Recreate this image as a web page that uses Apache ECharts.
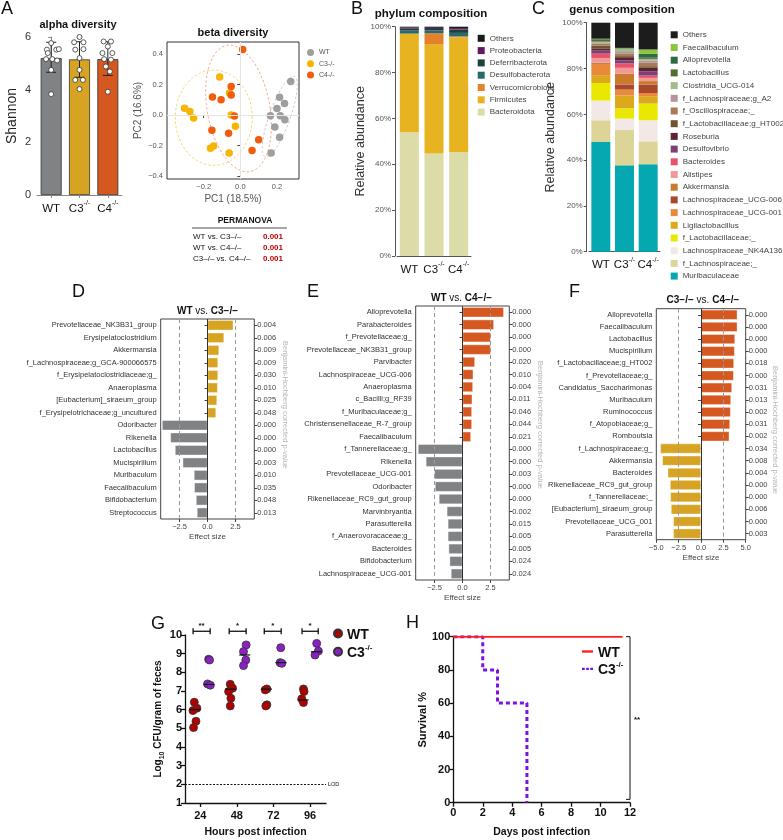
<!DOCTYPE html>
<html>
<head>
<meta charset="utf-8">
<script src="https://cdn.jsdelivr.net/npm/echarts@6/dist/echarts.min.js"></script>
<style>html,body{margin:0;padding:0;background:#fff}#chart{width:783px;height:840px}</style>
</head>
<body>
<div id="chart"></div>
<script>
// ---------- A: alpha diversity ----------
const groups = ['WT', 'C3', 'C4'];
const shannonMean = [5.2, 5.15, 5.16];
const shannonLow = [4.66, 4.47, 4.54];
const shannonHigh = [5.8, 5.82, 5.82];
const shannonWT = [[0, 5.77], [-0.15, 5.52], [0.18, 5.52], [0.27, 5.54], [-0.12, 5.39], [-0.18, 5.16], [0.04, 5.16], [0.21, 5.11], [0, 4.75], [0, 3.83]];
const shannonC3 = [[1, 6.0], [0.81, 5.8], [1.14, 5.8], [0.85, 5.52], [1.14, 5.54], [1, 5.2], [1, 4.75], [0.85, 4.37], [1.12, 4.37], [1, 4.02]];
const shannonC4 = [[1.85, 5.83], [2.11, 5.83], [2, 5.64], [1.81, 5.39], [2.16, 5.39], [1.87, 5.16], [2.11, 5.14], [1.93, 4.88], [2.07, 4.69], [2, 3.92]];

// ---------- A: beta diversity (PC1, PC2) ----------
const pcoaWT = [[0.275, 0.22], [0.214, 0.117], [0.241, 0.076], [0.2, 0.043], [0.164, -0.004], [0.218, -0.004], [0.243, -0.03], [0.188, -0.078], [0.214, -0.145], [0.168, -0.25]];
const pcoaC3 = [[-0.113, 0.25], [-0.059, 0.145], [-0.304, 0.045], [-0.275, 0.024], [-0.255, -0.02], [-0.05, 0.0], [-0.027, -0.074], [-0.163, -0.218], [-0.146, -0.203], [-0.061, -0.249]];
const pcoaC4 = [[0.013, 0.43], [-0.05, 0.188], [-0.05, 0.132], [-0.152, 0.119], [-0.105, 0.1], [-0.032, -0.006], [-0.155, -0.1], [-0.064, -0.119], [0.1, -0.162], [0.064, -0.233]];
// ellipses: [centre x, centre y, half-width, half-height, shear]
const ellipses = [[0.215, -0.01, 0.06, 0.265, 0.28], [-0.145, -0.017, 0.21, 0.313, 0], [-0.01, 0.043, 0.173, 0.416, -0.115]];
const permanovaRows = ['WT vs. C3\u2013/\u2013', 'WT vs. C4\u2013/\u2013', 'C3\u2013/\u2013 vs. C4\u2013/\u2013'];
const permanovaP = ['0.001', '0.001', '0.001'];

// ---------- B: phylum composition (bottom -> top), WT, C3, C4 ----------
const phyla = ['Bacteroidota', 'Firmicutes', 'Verrucomicrobiota', 'Desulfobacterota', 'Deferribacterota', 'Proteobacteria', 'Others'];
const phylumColors = ['#dcdca8', '#e8b320', '#e5812b', '#256b6b', '#1d4038', '#5f1b63', '#1a1a1a'];
const phylumValues = [
  [54.0, 44.7, 45.3],
  [42.9, 47.6, 50.0],
  [0.1, 4.8, 0.5],
  [1.3, 1.3, 1.5],
  [0.8, 0.6, 1.5],
  [0.5, 0.5, 0.6],
  [0.4, 0.5, 0.6]
];

// ---------- C: genus composition (bottom -> top) ----------
const genera = ['Muribaculaceae', 'f_Lachnospiraceae;_', 'Lachnospiraceae_NK4A136', 'f_Lactobacillaceae;_', 'Ligilactobacillus',
  'Lachnospiraceae_UCG-001', 'Lachnospiraceae_UCG-006', 'Akkermansia', 'Alistipes', 'Bacteroides', 'Desulfovibrio', 'Roseburia',
  'f_Lactobacillaceae;g_HT002', 'f_Oscillospiraceae;_', 'f_Lachnospiraceae;g_A2', 'Clostridia_UCG-014', 'Lactobacillus',
  'Alloprevotella', 'Faecalibaculum', 'Others'];
const genusColors = ['#05a8b1', '#ddd597', '#f2e9e6', '#e8e800', '#dca81c', '#e8893c', '#a8482c', '#c97a2c', '#f19a95', '#e8526a',
  '#7e3f74', '#5e2435', '#6e5233', '#a87a56', '#b5949c', '#a4b98c', '#556b2f', '#2e6b45', '#8cc63f', '#1c1c1c'];
const genusValues = [
  [47.9, 37.7, 38.2], [9.5, 15.6, 10.0], [8.6, 4.8, 9.2], [7.7, 4.5, 7.3], [3.4, 5.6, 3.2],
  [4.9, 2.6, 1.4], [0.3, 2.2, 3.7], [0.3, 4.8, 1.5], [2.0, 2.5, 1.4], [1.9, 1.9, 1.0],
  [1.3, 1.4, 1.9], [0.8, 1.0, 1.5], [1.4, 0.8, 0.7], [0.8, 1.0, 1.5], [0.4, 0.8, 1.0],
  [0.5, 1.4, 0.7], [1.0, 0.2, 0.5], [0.2, 0.1, 1.7], [0.1, 0.1, 1.9], [7.0, 11.0, 11.7]
];

// ---------- D: WT vs C3 ----------
const taxaD = ['Prevotellaceae_NK3B31_group', 'Erysipelatoclostridium', 'Akkermansia', 'f_Lachnospiraceae;g_GCA-900066575',
  'f_Erysipelatoclostridiaceae;g_', 'Anaeroplasma', '[Eubacterium]_siraeum_group', 'f_Erysipelotrichaceae;g_uncultured',
  'Odoribacter', 'Rikenella', 'Lactobacillus', 'Mucispirillum', 'Muribaculum', 'Faecalibaculum', 'Bifidobacterium', 'Streptococcus'];
const effectD = [2.32, 1.49, 1.04, 0.95, 0.95, 0.92, 0.86, 0.77, -4.08, -3.33, -2.92, -2.23, -1.22, -1.19, -1.04, -0.95];
const pD = ['0.004', '0.006', '0.009', '0.009', '0.030', '0.010', '0.025', '0.048', '0.000', '0.000', '0.000', '0.003', '0.010', '0.035', '0.048', '0.013'];

// ---------- E: WT vs C4 ----------
const taxaE = ['Alloprevotella', 'Parabacteroides', 'f_Prevotellaceae;g_', 'Prevotellaceae_NK3B31_group', 'Parvibacter',
  'Lachnospiraceae_UCG-006', 'Anaeroplasma', 'c_Bacilli;g_RF39', 'f_Muribaculaceae;g_', 'Christensenellaceae_R-7_group',
  'Faecalibaculum', 'f_Tannerellaceae;g_', 'Rikenella', 'Prevotellaceae_UCG-001', 'Odoribacter', 'Rikenellaceae_RC9_gut_group',
  'Marvinbryantia', 'Parasutterella', 'f_Anaerovoracaceae;g_', 'Bacteroides', 'Bifidobacterium', 'Lachnospiraceae_UCG-001'];
const effectE = [3.71, 2.82, 2.53, 2.53, 1.12, 0.97, 0.94, 0.88, 0.85, 0.85, 0.76, -4.0, -3.29, -2.53, -2.47, -2.12, -1.41, -1.32, -1.32, -1.25, -1.16, -1.04];
const pE = ['0.000', '0.000', '0.000', '0.000', '0.020', '0.010', '0.004', '0.011', '0.046', '0.044', '0.021', '0.000', '0.000', '0.003', '0.000', '0.000', '0.002', '0.015', '0.005', '0.005', '0.024', '0.024'];

// ---------- F: C3 vs C4 ----------
const taxaF = ['Alloprevotella', 'Faecalibaculum', 'Lactobacillus', 'Mucispirillum', 'f_Lactobacillaceae;g_HT002', 'f_Prevotellaceae;g_',
  'Candidatus_Saccharimonas', 'Muribaculum', 'Ruminococcus', 'f_Atopobiaceae;g_', 'Romboutsia', 'f_Lachnospiraceae;g_', 'Akkermansia',
  'Bacteroides', 'Rikenellaceae_RC9_gut_group', 'f_Tannerellaceae;_', '[Eubacterium]_siraeum_group', 'Prevotellaceae_UCG_001', 'Parasutterella'];
const effectF = [4.07, 4.07, 3.81, 3.77, 3.69, 3.66, 3.47, 3.36, 3.32, 3.25, 3.17, -4.55, -4.33, -3.73, -3.47, -3.43, -3.36, -3.1, -3.1];
const pF = ['0.000', '0.000', '0.000', '0.000', '0.018', '0.000', '0.031', '0.013', '0.002', '0.031', '0.002', '0.034', '0.008', '0.004', '0.000', '0.000', '0.006', '0.000', '0.003'];

// ---------- G: CFU (hours, log10 CFU) ----------
const hours = [24, 48, 72, 96];
const cfuWT = [[20.1, 6.4], [21.8, 6.08], [19.2, 5.95], [21.2, 5.38], [19.6, 5.04],
  [43.7, 7.36], [45.2, 7.15], [42.6, 6.97], [44.1, 6.61], [43.7, 6.2],
  [67.7, 7.11], [66.6, 7.06], [67.7, 6.26], [67.0, 6.2],
  [91.7, 7.11], [92.1, 6.97], [90.6, 6.58], [91.7, 6.38]];
const cfuC3 = [[29.5, 8.7], [30.1, 8.66], [28.8, 7.38], [30.6, 7.31],
  [54.1, 9.47], [52.4, 9.11], [53.9, 8.66], [52.4, 8.36],
  [76.8, 9.32], [76.4, 8.52], [77.5, 8.48],
  [100.4, 9.55], [101.5, 9.14], [99.3, 8.93]];
const medianWT = [[20.5, 6.0], [44.0, 7.1], [67.4, 7.1], [91.4, 6.52]];
const medianC3 = [[29.7, 7.35], [53.2, 8.93], [77.0, 8.52], [100.2, 9.1]];
const brackets = [[19.3, 30.5, 10.2], [43.0, 54.1, 10.2], [66.0, 77.1, 10.2], [90.8, 101.4, 10.2]];
const bracketStars = ['**', '*', '*', '*'];
const lod = 2;

// ---------- H: survival ----------
const survivalWT = [[0, 100], [11.5, 100]];
const survivalC3 = [[0, 100], [2, 80], [3, 60], [5, 0]];

const FONT = 'Liberation Sans, Arial, sans-serif';
const cWT = '#7f8386', cC3 = '#d6a323', cC4 = '#d4581f';
const minus = v => v.toFixed(1).replace('-', '\u2212');
const supRich = (size, weight) => ({
  n: {fontSize: size, fontWeight: weight, lineHeight: size + 3, verticalAlign: 'bottom', color: '#111'},
  s: {fontSize: Math.round(size * 0.6), fontWeight: weight, lineHeight: size * 0.7, verticalAlign: 'top', color: '#111'}
});
const groupLabel = v => v === 'WT' ? '{n|WT}' : '{n|' + v + '}{s|-/-}';

const chart = echarts.init(document.getElementById('chart'));

const grids = [
  {left: 37, top: 37, width: 85, height: 158},
  {left: 167, top: 42, width: 132, height: 137, show: true, borderColor: '#333', borderWidth: 1},
  {left: 397, top: 26.7, width: 74, height: 229.3},
  {left: 589, top: 22.7, width: 71, height: 229},
  {left: 160.7, top: 319, width: 93.6, height: 200, show: true, borderColor: '#444', borderWidth: 1},
  {left: 415.7, top: 306, width: 93.6, height: 274, show: true, borderColor: '#444', borderWidth: 1},
  {left: 656.3, top: 308.7, width: 89.4, height: 231, show: true, borderColor: '#444', borderWidth: 1},
  {left: 185, top: 635, width: 141, height: 168},
  {left: 453.3, top: 636.7, width: 176.7, height: 166}
];

const greyAxis = {lineStyle: {color: '#555', width: 1}};
const effectX = (gi, isF) => ({
  type: 'value', gridIndex: gi, min: isF ? -5 : -4.2, max: isF ? 5 : 4.2, interval: isF ? 2.5 : undefined,
  axisLine: {show: false}, splitLine: {show: false},
  axisTick: {show: true, length: 3, lineStyle: {color: '#444'}, customValues: isF ? undefined : [-2.5, 0, 2.5]},
  axisLabel: {fontSize: 7.5, color: '#444', margin: 4, formatter: minus, customValues: isF ? undefined : [-2.5, 0, 2.5]},
  name: 'Effect size', nameLocation: 'middle', nameGap: 14, nameTextStyle: {fontSize: 8, color: '#444'}
});
const taxaY = (gi, names) => ({
  type: 'category', gridIndex: gi, data: names, inverse: true, position: 'left',
  axisLine: {show: false}, axisTick: {show: true, length: 3, alignWithLabel: true, lineStyle: {color: '#444'}},
  axisLabel: {fontSize: 7.5, color: '#333', margin: 4, interval: 0}
});
const pY = (gi, names, pv) => ({
  type: 'category', gridIndex: gi, data: names, inverse: true, position: 'right',
  axisLine: {show: false}, axisTick: {show: true, length: 3, alignWithLabel: true, lineStyle: {color: '#444'}},
  axisLabel: {fontSize: 7.5, color: '#444', margin: 3, interval: 0, formatter: (v, i) => pv[i]}
});
const groupX = (gi, lineColor, ticks) => ({
  type: 'category', gridIndex: gi, data: groups,
  axisLine: {lineStyle: {color: lineColor}}, axisTick: {show: ticks, length: 3, alignWithLabel: true, lineStyle: {color: lineColor}},
  axisLabel: {interval: 0, formatter: groupLabel, rich: supRich(11.5, 'normal'), margin: 5}
});

const xAxes = [
  groupX(0, '#888', true),
  {type: 'value', gridIndex: 0, min: -0.5, max: 2.5, show: false},
  {type: 'value', gridIndex: 1, min: -0.4, max: 0.32, splitLine: {show: false}, axisLine: {show: false},
    axisTick: {length: 3, lineStyle: {color: '#444'}, customValues: [-0.2, 0, 0.2]},
    axisLabel: {fontSize: 7.5, color: '#555', margin: 4, customValues: [-0.2, 0, 0.2], formatter: v => v.toFixed(1).replace('-', '\u2212')},
    name: 'PC1 (18.5%)', nameLocation: 'middle', nameGap: 15, nameTextStyle: {fontSize: 10, color: '#555'}},
  groupX(2, '#555', false),
  groupX(3, '#555', false),
  effectX(4, false),
  effectX(5, false),
  effectX(6, true),
  {type: 'value', gridIndex: 7, min: 14, max: 106.5, splitLine: {show: false},
    axisLine: {lineStyle: {color: '#111', width: 1.3}},
    axisTick: {length: 4, lineStyle: {color: '#111', width: 1.3}, customValues: hours},
    axisLabel: {fontSize: 11, fontWeight: 'bold', color: '#111', margin: 7, customValues: hours},
    name: 'Hours post infection', nameLocation: 'middle', nameGap: 24, nameTextStyle: {fontSize: 10.5, fontWeight: 'bold', color: '#111'}},
  {type: 'value', gridIndex: 8, min: 0, max: 12, interval: 2, splitLine: {show: false},
    axisLine: {lineStyle: {color: '#111', width: 1.3}}, axisTick: {length: 4, lineStyle: {color: '#111', width: 1.3}},
    axisLabel: {fontSize: 11, fontWeight: 'bold', color: '#111', margin: 5},
    name: 'Days post infection', nameLocation: 'middle', nameGap: 24, nameTextStyle: {fontSize: 10.5, fontWeight: 'bold', color: '#111'}}
];

const yAxes = [
  {type: 'value', gridIndex: 0, min: 0, max: 6, interval: 2, splitLine: {show: false}, offset: 1,
    axisLine: {show: true, lineStyle: {color: '#888'}}, axisTick: {show: true, length: 3, lineStyle: {color: '#888'}},
    axisLabel: {fontSize: 11, color: '#333', margin: 5},
    name: 'Shannon', nameLocation: 'middle', nameGap: 17, nameTextStyle: {fontSize: 14, color: '#222'}},
  {type: 'value', gridIndex: 1, min: -0.42, max: 0.48, splitLine: {show: false}, axisLine: {show: false},
    axisTick: {show: true, length: 3, lineStyle: {color: '#444'}, customValues: [-0.4, -0.2, 0, 0.2, 0.4]},
    axisLabel: {fontSize: 7.5, color: '#555', margin: 4, customValues: [-0.4, -0.2, 0, 0.2, 0.4], formatter: v => v.toFixed(1).replace('-', '\u2212')},
    name: 'PC2 (16.6%)', nameLocation: 'middle', nameGap: 24, nameTextStyle: {fontSize: 10, color: '#555'}},
  {type: 'value', gridIndex: 2, min: 0, max: 100, interval: 20, offset: 2, splitLine: {show: false},
    axisLine: {show: true, lineStyle: {color: '#555'}}, axisTick: {show: true, length: 3, lineStyle: {color: '#555'}},
    axisLabel: {fontSize: 8, color: '#555', margin: 4, formatter: v => v + '%'},
    name: 'Relative abundance', nameLocation: 'middle', nameGap: 27, nameTextStyle: {fontSize: 12.5, color: '#333'}},
  {type: 'value', gridIndex: 3, min: 0, max: 100, interval: 20, offset: 2.3, splitLine: {show: false},
    axisLine: {show: true, lineStyle: {color: '#555'}}, axisTick: {show: true, length: 3, lineStyle: {color: '#555'}},
    axisLabel: {fontSize: 8, color: '#555', margin: 4, formatter: v => v + '%'},
    name: 'Relative abundance', nameLocation: 'middle', nameGap: 30, nameTextStyle: {fontSize: 12.5, color: '#333'}},
  taxaY(4, taxaD), pY(4, taxaD, pD),
  taxaY(5, taxaE), pY(5, taxaE, pE),
  taxaY(6, taxaF), pY(6, taxaF, pF),
  {type: 'value', gridIndex: 7, min: 1, max: 10, interval: 1, splitLine: {show: false},
    axisLine: {show: true, lineStyle: {color: '#111', width: 1.3}}, axisTick: {show: true, length: 4, lineStyle: {color: '#111', width: 1.3}},
    axisLabel: {fontSize: 11, fontWeight: 'bold', color: '#111', margin: 3},
    name: '{a|Log}{s|10}{a| CFU/gram of feces}', nameLocation: 'middle', nameGap: 19,
    nameTextStyle: {rich: {a: {fontSize: 10, fontWeight: 'bold', color: '#111', lineHeight: 13, verticalAlign: 'top'},
      s: {fontSize: 7, fontWeight: 'bold', color: '#111', lineHeight: 9, verticalAlign: 'bottom'}}}},
  {type: 'value', gridIndex: 8, min: 0, max: 100, interval: 20, splitLine: {show: false},
    axisLine: {show: true, lineStyle: {color: '#111', width: 1.3}}, axisTick: {show: true, length: 4, lineStyle: {color: '#111', width: 1.3}},
    axisLabel: {fontSize: 11, fontWeight: 'bold', color: '#111', margin: 3},
    name: 'Survival %', nameLocation: 'middle', nameGap: 23, nameTextStyle: {fontSize: 11, fontWeight: 'bold', color: '#111'}}
];

const series = [];

// A alpha
series.push({type: 'bar', xAxisIndex: 0, yAxisIndex: 0, barWidth: 21, z: 2,
  data: shannonMean.map((v, i) => ({value: v, itemStyle: {color: [cWT, cC3, cC4][i]}})),
  itemStyle: {borderColor: '#333', borderWidth: 0.8}});
series.push({type: 'custom', xAxisIndex: 1, yAxisIndex: 0, z: 3,
  data: groups.map((g, i) => [i, shannonLow[i], shannonHigh[i]]),
  renderItem: (params, api) => {
    const lo = api.coord([api.value(0), api.value(1)]);
    const hi = api.coord([api.value(0), api.value(2)]);
    const st = {stroke: '#222', lineWidth: 1};
    return {type: 'group', children: [
      {type: 'line', shape: {x1: lo[0], y1: lo[1], x2: hi[0], y2: hi[1]}, style: st},
      {type: 'line', shape: {x1: lo[0] - 5, y1: lo[1], x2: lo[0] + 5, y2: lo[1]}, style: st},
      {type: 'line', shape: {x1: hi[0] - 5, y1: hi[1], x2: hi[0] + 5, y2: hi[1]}, style: st}
    ]};
  }});
[shannonWT, shannonC3, shannonC4].forEach(d => series.push({type: 'scatter', xAxisIndex: 1, yAxisIndex: 0, z: 4, data: d,
  symbolSize: 5, itemStyle: {color: '#fff', borderColor: '#333', borderWidth: 0.8, opacity: 1}}));

// A beta
series.push({type: 'custom', xAxisIndex: 2, yAxisIndex: 1, z: 2, data: ellipses, clip: true,
  renderItem: (params, api) => {
    const cx = api.value(0), cy = api.value(1), rx = api.value(2), ry = api.value(3), k = api.value(4);
    const pts = [];
    for (let i = 0; i <= 90; i++) {
      const t = i / 90 * Math.PI * 2;
      pts.push(api.coord([cx + rx * Math.cos(t) + k * ry * Math.sin(t), cy + ry * Math.sin(t)]));
    }
    const col = ['#c4c4c4', '#f6cf63', '#f3a17f'][params.dataIndex];
    return {type: 'polyline', shape: {points: pts}, style: {stroke: col, fill: null, lineWidth: 0.9, lineDash: [2.5, 2]}};
  }});
series.push({type: 'scatter', xAxisIndex: 2, yAxisIndex: 1, data: [], silent: true,
  markLine: {silent: true, symbol: ['none', 'none'], label: {show: false}, lineStyle: {color: '#e6e6e6', type: 'solid', width: 1},
    data: [{xAxis: 0}, {yAxis: 0}]}});
[['bWT', pcoaWT, '#9e9e9e'], ['bC3', pcoaC3, '#f7b500'], ['bC4', pcoaC4, '#f25c0a']].forEach(([n, d, c]) =>
  series.push({type: 'scatter', name: n, xAxisIndex: 2, yAxisIndex: 1, z: 3, data: d, symbolSize: 7.5, itemStyle: {color: c, opacity: 1}}));

// B phylum
phyla.forEach((p, k) => series.push({type: 'bar', name: p, stack: 'phylum', xAxisIndex: 3, yAxisIndex: 2, barWidth: 19,
  data: phylumValues[k], itemStyle: {color: phylumColors[k]}}));
// C genus
genera.forEach((g, k) => series.push({type: 'bar', name: g === 'Others' ? 'Others ' : g, stack: 'genus', xAxisIndex: 4, yAxisIndex: 3, barWidth: 19,
  data: genusValues[k], itemStyle: {color: genusColors[k]}}));

// D E F
[[4, 5, 4, effectD, cC3, cWT], [5, 6, 6, effectE, cC4, cWT], [6, 7, 8, effectF, cC4, cC3]].forEach(([gi, xi, yi, vals, pos, neg]) => {
  series.push({type: 'scatter', xAxisIndex: xi, yAxisIndex: yi, data: [], silent: true, z: 1,
    markLine: {silent: true, symbol: ['none', 'none'], label: {show: false},
      data: [{xAxis: -2.5, lineStyle: {color: '#999', type: [4, 3], width: 1}}, {xAxis: 2.5, lineStyle: {color: '#999', type: [4, 3], width: 1}}]}});
  series.push({type: 'bar', xAxisIndex: xi, yAxisIndex: yi, z: 2, barCategoryGap: '18%',
    data: vals.map(v => ({value: v, itemStyle: {color: v > 0 ? pos : neg}})),
    itemStyle: {borderColor: 'rgba(255,255,255,0.7)', borderWidth: 0.6},
    markLine: {silent: true, symbol: ['none', 'none'], label: {show: false}, z: 5,
      data: [{xAxis: 0, lineStyle: {color: '#333', type: 'solid', width: 1}}]}});
});

// G
series.push({type: 'scatter', xAxisIndex: 8, yAxisIndex: 10, data: [], silent: true,
  markLine: {silent: true, symbol: ['none', 'none'], lineStyle: {color: '#111', type: [2, 1.5], width: 1},
    label: {show: true, position: 'end', formatter: 'LOD', fontSize: 5.5, color: '#111', distance: 2},
    data: [{yAxis: lod}]}});
series.push({type: 'scatter', name: 'gWT', xAxisIndex: 8, yAxisIndex: 10, z: 3, data: cfuWT, symbolSize: 8,
  itemStyle: {color: '#b00000', borderColor: '#333', borderWidth: 0.8, opacity: 1}});
series.push({type: 'scatter', name: 'gC3', xAxisIndex: 8, yAxisIndex: 10, z: 3, data: cfuC3, symbolSize: 8,
  itemStyle: {color: '#8b20c4', borderColor: '#333', borderWidth: 0.8, opacity: 1}});
[medianWT, medianC3].forEach(d => series.push({type: 'scatter', xAxisIndex: 8, yAxisIndex: 10, z: 4, data: d,
  symbol: 'rect', symbolSize: [11, 1.2], itemStyle: {color: '#111', opacity: 1}}));
series.push({type: 'custom', xAxisIndex: 8, yAxisIndex: 10, z: 5, clip: false, data: brackets,
  renderItem: (params, api) => {
    const a = api.coord([api.value(0), api.value(2)]);
    const b = api.coord([api.value(1), api.value(2)]);
    const st = {stroke: '#111', lineWidth: 1.3};
    return {type: 'group', children: [
      {type: 'line', shape: {x1: a[0], y1: a[1], x2: b[0], y2: b[1]}, style: st},
      {type: 'line', shape: {x1: a[0], y1: a[1] - 3, x2: a[0], y2: a[1] + 3}, style: st},
      {type: 'line', shape: {x1: b[0], y1: b[1] - 3, x2: b[0], y2: b[1] + 3}, style: st},
      {type: 'text', style: {x: (a[0] + b[0]) / 2, y: a[1] - 1, text: bracketStars[params.dataIndex], fill: '#111',
        font: 'bold 8px ' + FONT, align: 'center', verticalAlign: 'bottom'}}
    ]};
  }});

// H
series.push({type: 'line', name: 'hC3', xAxisIndex: 9, yAxisIndex: 11, data: survivalC3, step: 'end', symbol: 'none', z: 2,
  lineStyle: {color: '#7d12e0', width: 3, type: [4, 3]}, itemStyle: {color: '#7d12e0'}});
series.push({type: 'line', name: 'hWT', xAxisIndex: 9, yAxisIndex: 11, data: survivalWT, symbol: 'none', z: 3,
  lineStyle: {color: '#ff2020', width: 2}, itemStyle: {color: '#ff2020'}});
series.push({type: 'custom', xAxisIndex: 9, yAxisIndex: 11, z: 5, clip: false, data: [[12, 100, 2]],
  renderItem: (params, api) => {
    const t = api.coord([api.value(0), api.value(1)]);
    const b = api.coord([api.value(0), api.value(2)]);
    const st = {stroke: '#111', lineWidth: 1};
    return {type: 'group', children: [
      {type: 'line', shape: {x1: t[0], y1: t[1], x2: b[0], y2: b[1]}, style: st},
      {type: 'line', shape: {x1: t[0] - 4, y1: t[1], x2: t[0], y2: t[1]}, style: st},
      {type: 'line', shape: {x1: b[0] - 4, y1: b[1], x2: b[0], y2: b[1]}, style: st},
      {type: 'text', style: {x: t[0] + 7, y: (t[1] + b[1]) / 2 + 2, text: '**', fill: '#111', font: 'bold 8px ' + FONT, align: 'center', verticalAlign: 'middle'}}
    ]};
  }});

const legendNames = {bWT: 'WT', bC3: 'C3-/-', bC4: 'C4-/-'};
const solidIcon = 'path://M0,0L12,0L12,2.6L0,2.6Z';
const dashIcon = 'path://M0,0L3,0L3,2.6L0,2.6Z M4.5,0L7.5,0L7.5,2.6L4.5,2.6Z M9,0L12,0L12,2.6L9,2.6Z';
const legends = [
  {left: 302, top: 44, orient: 'vertical', itemWidth: 7, itemHeight: 7, itemGap: 4.3, icon: 'circle',
    data: ['bWT', 'bC3', 'bC4'], formatter: n => legendNames[n], textStyle: {fontSize: 7, color: '#555', lineHeight: 7}},
  {left: 472.7, top: 29.3, orient: 'vertical', itemWidth: 7, itemHeight: 7, itemGap: 4.3, icon: 'rect',
    data: phyla.slice().reverse(), textStyle: {fontSize: 8, color: '#444', lineHeight: 7}},
  {left: 665.7, top: 25.8, orient: 'vertical', itemWidth: 7, itemHeight: 7, itemGap: 4.7, icon: 'rect',
    data: genera.slice().reverse().map(g => g === 'Others' ? 'Others ' : g), formatter: n => n.trim(),
    textStyle: {fontSize: 8, color: '#444', lineHeight: 7}},
  {left: 328, top: 623, orient: 'vertical', itemWidth: 8, itemHeight: 8, itemGap: 1.3, icon: 'circle',
    data: ['gWT', 'gC3'], formatter: n => n === 'gWT' ? '{n|WT}' : '{n|C3}{s|-/-}', textStyle: {rich: supRich(14, 'bold')}},
  {left: 577, top: 641, orient: 'vertical', itemWidth: 11, itemHeight: 2.6, itemGap: 0.4,
    data: [{name: 'hWT', icon: solidIcon}, {name: 'hC3', icon: dashIcon}],
    formatter: n => n === 'hWT' ? '{n|WT}' : '{n|C3}{s|-/-}', textStyle: {rich: supRich(14, 'bold')}}
];

const txt = (x, y, text, font, extra) => Object.assign({type: 'text', x: x, y: y, silent: true,
  style: Object.assign({text: text, font: font, fill: '#111', align: 'left', verticalAlign: 'middle'}, extra || {})});
const letterFont = 'normal 18px ' + FONT;
const bh = 'Benjamini-Hochberg corrected p-value';
const titleRich = {b: {fontWeight: 'bold', fontSize: 10, fill: '#111'}};
const graphics = [
  txt(1, 9, 'A', letterFont), txt(351, 9, 'B', letterFont), txt(532, 9, 'C', letterFont),
  txt(72, 292, 'D', letterFont), txt(307, 292, 'E', letterFont), txt(569, 292, 'F', letterFont),
  txt(151, 624, 'G', letterFont), txt(406, 623, 'H', letterFont),
  txt(78, 25, 'alpha diversity', 'bold 11px ' + FONT, {align: 'center'}),
  txt(233, 33, 'beta diversity', 'bold 11px ' + FONT, {align: 'center'}),
  txt(431, 14, 'phylum composition', 'bold 11.5px ' + FONT, {align: 'center'}),
  txt(622, 10, 'genus composition', 'bold 11.5px ' + FONT, {align: 'center'}),
  txt(245, 221, 'PERMANOVA', 'bold 8.5px ' + FONT, {align: 'center'}),
  {type: 'line', silent: true, shape: {x1: 192, y1: 228, x2: 287, y2: 228}, style: {stroke: '#222', lineWidth: 0.8}},
  txt(207.5, 311, '{b|WT} vs. {b|C3\u2212/\u2212}', '10px ' + FONT, {align: 'center', rich: titleRich}),
  txt(461.5, 298, '{b|WT} vs. {b|C4\u2212/\u2212}', '10px ' + FONT, {align: 'center', rich: titleRich}),
  txt(703, 300, '{b|C3\u2212/\u2212} vs. {b|C4\u2212/\u2212}', '10px ' + FONT, {align: 'center', rich: titleRich}),
  txt(285, 405, bh, '7.5px ' + FONT, {align: 'center', fill: '#b5b5b5'}),
  txt(540, 425, bh, '7.5px ' + FONT, {align: 'center', fill: '#b5b5b5'}),
  txt(775, 430, bh, '7.5px ' + FONT, {align: 'center', fill: '#b5b5b5'})
];
graphics[graphics.length - 3].rotation = -Math.PI / 2;
graphics[graphics.length - 2].rotation = -Math.PI / 2;
graphics[graphics.length - 1].rotation = -Math.PI / 2;
permanovaRows.forEach((r, i) => {
  graphics.push(txt(193, 237 + i * 10.7, r, '8px ' + FONT));
  graphics.push(txt(263, 237 + i * 10.7, permanovaP[i], 'bold 8px ' + FONT, {fill: '#c00000'}));
});

chart.setOption({
  animation: false,
  textStyle: {fontFamily: FONT},
  grid: grids,
  xAxis: xAxes,
  yAxis: yAxes,
  legend: legends,
  series: series,
  graphic: graphics
});
</script>
</body>
</html>
